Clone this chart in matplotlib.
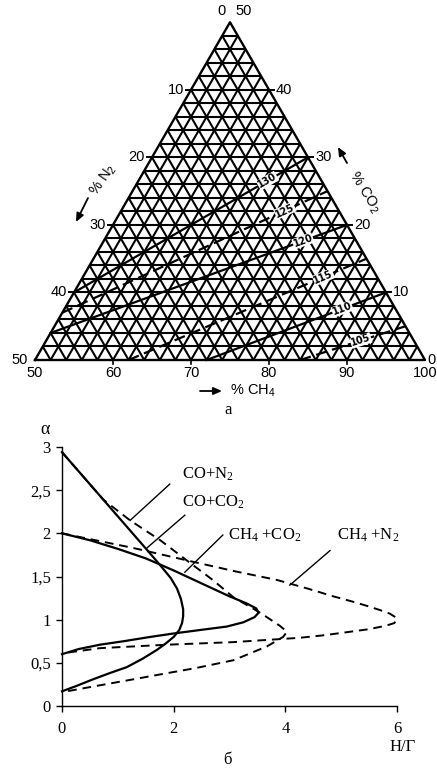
import numpy as np
import matplotlib.pyplot as plt

plt.rcParams['mathtext.default'] = 'regular'

W, H = 437, 768
SQ = np.sqrt(3) / 2

# ---- top: ternary diagram CH4 / N2 / CO2 (CH4 >= 50 %) ----
grid_step = 2
side_ticks = [0, 10, 20, 30, 40, 50]
ch4_ticks = [50, 60, 70, 80, 90, 100]

iso_labels = ['130', '125', '120', '115', '110', '105']
iso_dashed = [False, True, False, True, False, True]
# end on the CO2 side (N2 = 0), % CO2
iso_co2_right = [30, 25, 20, 15, 10, 5]
# other end as (CH4, N2, CO2)
iso_left = [(50, 40, 10), (50, 43, 7), (50, 46, 4), (62, 38, 0), (72, 28, 0), (84, 16, 0)]

# ---- bottom: alpha vs H/G ----
co_co2_x = [0, 0.74, 1.52, 1.76, 1.95, 2.06, 2.13, 2.17, 2.17, 2.15, 2.1, 2.0, 1.85, 1.7, 1.45,
            1.16, 0.85, 0.56, 0.25, 0]
co_co2_a = [2.94, 2.39, 1.81, 1.63, 1.48, 1.36, 1.24, 1.12, 1.04, 0.96, 0.88, 0.8, 0.72, 0.65, 0.55,
            0.45, 0.38, 0.31, 0.23, 0.17]

co_n2_x = [0, 0.74, 1.22, 1.76, 2.35, 2.7, 3.07, 3.55, 3.9, 4.03, 3.96, 3.67, 3.07, 2.4, 1.88,
           1.2, 0.68, 0]
co_n2_a = [2.94, 2.39, 2.15, 1.92, 1.63, 1.46, 1.26, 1.08, 0.93, 0.86, 0.8, 0.69, 0.53, 0.44, 0.38,
           0.3, 0.24, 0.16]

ch4_co2_x = [0, 0.5, 1.0, 1.5, 2.0, 2.5, 3.0, 3.3, 3.48, 3.52, 3.45, 3.25, 2.95, 2.47, 2.0, 1.58,
             1.1, 0.68, 0.3, 0]
ch4_co2_a = [2.0, 1.92, 1.82, 1.71, 1.57, 1.42, 1.27, 1.19, 1.13, 1.08, 1.03, 0.97, 0.92, 0.88, 0.84,
             0.8, 0.75, 0.71, 0.66, 0.6]

ch4_n2_x = [0, 0.6, 1.28, 2.35, 3.1, 3.85, 4.4, 4.86, 5.2, 5.46, 5.7, 5.87, 5.97, 6.0, 5.95, 5.8,
            5.5, 5.16, 4.7, 4.26, 3.07, 1.88, 0.68, 0]
ch4_n2_a = [2.0, 1.92, 1.83, 1.67, 1.56, 1.46, 1.36, 1.27, 1.21, 1.16, 1.11, 1.07, 1.03, 1.0, 0.96,
            0.93, 0.89, 0.86, 0.82, 0.79, 0.74, 0.71, 0.67, 0.61]

curve_names = ['CO+N$_2$', 'CO+CO$_2$', 'CH$_4$ +CO$_2$', 'CH$_4$ +N$_2$']


def tern(ch4, n2, co2):
    return (ch4 - 50) / 50 + 0.5 * co2 / 50, SQ * co2 / 50


def fpos(px, py):
    return px / W, 1 - py / H


fig = plt.figure(figsize=(W / 100, H / 100), dpi=100)
fig.patch.set_facecolor('white')

ax1 = fig.add_axes([0, 1 - 400 / H, 1, 400 / H])
ax1.set_xlim(-35 / 390, 402 / 390)
ax1.set_ylim(-40 / 390, 360 / 390)
ax1.axis('off')

kw = dict(color='black', lw=1.5, solid_capstyle='butt')
for v in np.arange(grid_step, 50, grid_step):
    for p, q in [(tern(50, 50 - v, v), tern(100 - v, 0, v)),
                 (tern(100 - v, v, 0), tern(50, v, 50 - v)),
                 (tern(50 + v, 50 - v, 0), tern(50 + v, 0, 50 - v))]:
        ax1.plot([p[0], q[0]], [p[1], q[1]], **kw)

corners = [tern(50, 50, 0), tern(100, 0, 0), tern(50, 0, 50), tern(50, 50, 0)]
ax1.plot([c[0] for c in corners], [c[1] for c in corners], color='black', lw=1.7)

tfont = dict(family='Liberation Sans', fontsize=10.5)
for n in side_ticks:
    x, y = tern(50, n, 50 - n)
    if 0 < n < 50:
        ax1.plot([x - 0.014, x], [y, y], color='black', lw=1.4)
    if n == 0:
        ax1.text(x - 0.012, y + 0.012, str(n), ha='right', va='bottom', **tfont)
    else:
        ax1.text(x - 0.018, y, str(n), ha='right', va='center', **tfont)
for c in side_ticks:
    x, y = tern(100 - c, 0, c)
    if 0 < c < 50:
        ax1.plot([x, x + 0.014], [y, y], color='black', lw=1.4)
    if c == 50:
        ax1.text(x + 0.015, y + 0.012, str(c), ha='left', va='bottom', **tfont)
    elif c == 0:
        ax1.text(x + 0.006, y, str(c), ha='left', va='center', **tfont)
    else:
        ax1.text(x + 0.018, y, str(c), ha='left', va='center', **tfont)
for m in ch4_ticks:
    x, y = tern(m, 100 - m, 0)
    if 50 < m < 100:
        ax1.plot([x, x], [y, y - 0.01], color='black', lw=1.2)
    ax1.text(x, y - 0.016, str(m), ha='center', va='top', **tfont)

for lab, dashed, c_r, left in zip(iso_labels, iso_dashed, iso_co2_right, iso_left):
    p = np.array(tern(100 - c_r, 0, c_r))
    q = np.array(tern(*left))
    ls = (0, (5, 2.5)) if dashed else '-'
    ax1.plot([q[0], p[0]], [q[1], p[1]], color='black', lw=1.6, linestyle=ls)
    d = (p - q) / np.hypot(*(p - q))
    lx, ly = p - 0.12 * d
    ang = np.degrees(np.arctan2(d[1], d[0]))
    ax1.text(lx, ly, lab, rotation=ang, rotation_mode='anchor', ha='center', va='center',
             fontsize=7, fontweight='bold', family='DejaVu Sans',
             bbox=dict(fc='white', ec='none', pad=0.3))

fig.text(*fpos(103, 180), '% N$_2$', rotation=55, ha='center', va='center', **tfont)
fig.text(*fpos(364, 192), '% CO$_2$', rotation=-58, ha='center', va='center', **tfont)
fig.text(*fpos(230, 391), '% CH$_4$', ha='left', va='center', **tfont)
arrow = dict(arrowstyle='-|>,head_length=0.5,head_width=0.22', color='black', lw=1.3,
             shrinkA=0, shrinkB=0)
for a, b in [((88, 198), (76, 222)), ((347, 163), (338, 147)), ((200, 391), (222, 391))]:
    ax1.annotate('', xy=fpos(*b), xytext=fpos(*a), xycoords='figure fraction',
                 textcoords='figure fraction', arrowprops=arrow, annotation_clip=False)

sfont = dict(family='Liberation Serif')
fig.text(*fpos(228, 410), 'а', ha='center', va='center', fontsize=12, **sfont)

# ---- bottom chart ----
ax2 = fig.add_axes([62 / W, 1 - 706 / H, 335 / W, 259 / H])
ax2.set_xlim(0, 6)
ax2.set_ylim(0, 3)
ax2.spines[['top', 'right']].set_visible(False)
for s in ['left', 'bottom']:
    ax2.spines[s].set_linewidth(1.0)
ax2.set_xticks([0, 2, 4, 6])
ax2.set_xticklabels(['0', '2', '4', '6'], **sfont)
ax2.set_yticks(np.arange(0, 3.01, 0.5))
ax2.set_yticklabels(['0', '0,5', '1', '1,5', '2', '2,5', '3'], **sfont)
ax2.tick_params(direction='out', length=4, width=1, labelsize=12, pad=4)
ax2.tick_params(axis='x', pad=7)

dash = (0, (4.5, 3))
ax2.plot(co_co2_x, co_co2_a, color='black', lw=1.6, clip_on=False)
ax2.plot(ch4_co2_x, ch4_co2_a, color='black', lw=1.6, clip_on=False)
ax2.plot(co_n2_x, co_n2_a, color='black', lw=1.4, linestyle=dash, clip_on=False)
ax2.plot(ch4_n2_x, ch4_n2_a, color='black', lw=1.4, linestyle=dash, clip_on=False)

leaders = [((1.22, 2.15), (1.93, 2.57), (2.15, 2.68)),
           ((1.52, 1.83), (2.2, 2.21), (2.15, 2.36)),
           ((2.2, 1.55), (2.88, 1.98), (2.97, 1.98)),
           ((4.08, 1.40), (4.8, 1.80), (4.93, 1.98))]
for name, (a, b, t) in zip(curve_names, leaders):
    ax2.plot([a[0], b[0]], [a[1], b[1]], color='black', lw=1.0, clip_on=False)
    ax2.text(t[0], t[1], name, ha='left', va='center', fontsize=12, **sfont)

fig.text(*fpos(45, 430), 'α', ha='center', va='center', fontsize=13, **sfont)
fig.text(*fpos(403, 747), 'Н/Г', ha='center', va='center', fontsize=12, **sfont)
fig.text(*fpos(227, 760), 'б', ha='center', va='center', fontsize=12, **sfont)

fig.savefig('out.png', dpi=100, facecolor='white')
